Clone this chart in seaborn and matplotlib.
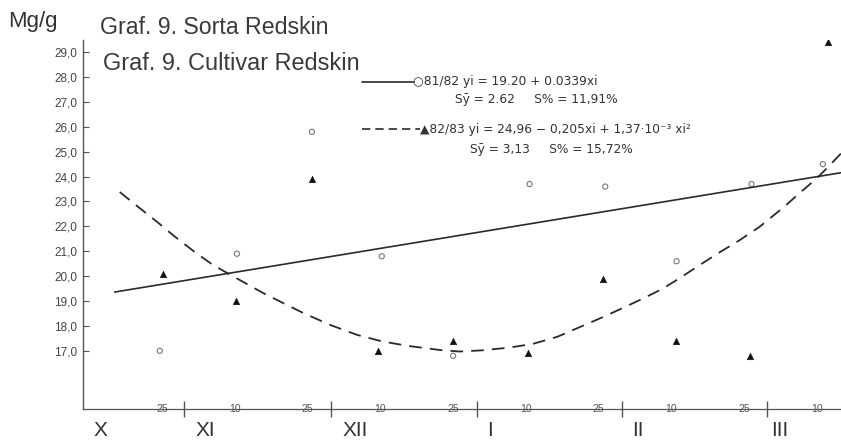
import matplotlib
matplotlib.use("Agg")
import matplotlib.pyplot as plt
import seaborn as sns
import pandas as pd
from matplotlib.lines import Line2D

# ---------------- data ----------------
# sampling dates, evenly spaced positions 1..10
date_pos = [1, 2, 3, 4, 5, 6, 7, 8, 9, 10]
date_labels = ["25", "10", "25", "10", "25", "10", "25", "10", "25", "10"]
month_names = ["X", "XI", "XII", "I", "II", "III"]
month_label_pos = [0.15, 1.59, 3.65, 5.51, 7.54, 9.49]
month_sep_pos = [1.30, 3.32, 5.33, 7.32, 9.32]

# season 81/82 (open circles)
circ_x = [0.97, 2.03, 3.06, 4.02, 5.0, 6.05, 7.09, 8.07, 9.1, 10.08]
circ_y = [17.0, 20.9, 25.8, 20.8, 16.8, 23.7, 23.6, 20.6, 23.7, 24.5]
# season 82/83 (filled triangles)
tri_x = [1.01, 2.02, 3.06, 3.97, 5.0, 6.03, 7.06, 8.06, 9.08, 10.15]
tri_y = [20.1, 19.0, 23.9, 17.0, 17.4, 16.9, 19.9, 17.4, 16.8, 29.4]

# fitted line 81/82 (solid)
lin_x = [0.35, 10.4]
lin_y = [19.36, 24.19]
# fitted curve 82/83 (dashed)
quad_x = [0.42, 0.70, 0.95, 1.18, 1.45, 1.70, 1.96, 2.17, 2.39, 2.65, 2.94,
          3.31, 3.68, 4.02, 4.37, 4.82, 5.09, 5.41, 5.78, 6.10, 6.43, 6.78,
          7.11, 7.33, 7.61, 7.87, 8.12, 8.39, 8.67, 8.94, 9.21, 9.53, 9.81,
          10.0, 10.18, 10.31, 10.42]
quad_y = [23.38, 22.72, 22.14, 21.58, 20.97, 20.45, 20.02, 19.68, 19.32, 18.94,
          18.52, 18.04, 17.64, 17.38, 17.20, 17.03, 16.97, 17.02, 17.13, 17.28,
          17.56, 18.00, 18.42, 18.72, 19.10, 19.48, 19.93, 20.45, 20.97, 21.45,
          21.98, 22.74, 23.46, 23.94, 24.47, 24.87, 25.2]

y_ticks = [17, 18, 19, 20, 21, 22, 23, 24, 25, 26, 27, 28, 29]
y_tick_labels = [f"{v},0" for v in y_ticks]

# ---------------- figure ----------------
sns.set_theme(style="white")
plt.rcParams["font.family"] = ["Liberation Sans", "DejaVu Sans"]

W, H = 841, 441
fig = plt.figure(figsize=(W / 100, H / 100), dpi=100)
ax = fig.add_axes([83 / W, 32 / H, 758 / W, 369 / H])

ink = "#2a2a2a"
grey = "#555555"

df_lin = pd.DataFrame({"x": lin_x, "y": lin_y})
df_quad = pd.DataFrame({"x": quad_x, "y": quad_y})
sns.lineplot(data=df_lin, x="x", y="y", ax=ax, color=ink, lw=1.2, sort=False)
sns.lineplot(data=df_quad, x="x", y="y", ax=ax, color=ink, lw=1.3, sort=False,
             dashes=False)
ax.lines[-1].set_dashes([7, 4.5])

df_c = pd.DataFrame({"x": circ_x, "y": circ_y})
df_t = pd.DataFrame({"x": tri_x, "y": tri_y})
sns.scatterplot(data=df_c, x="x", y="y", ax=ax, marker="o", s=14,
                facecolor="none", edgecolor="#777777", linewidth=0.8)
sns.scatterplot(data=df_t, x="x", y="y", ax=ax, marker="^", s=22,
                color="#111111", edgecolor="#111111", linewidth=0.4)

ax.set_xlim(-0.085, 10.33)
ax.set_ylim(14.66, 29.49)
ax.set_xlabel("")
ax.set_ylabel("")

for s in ["top", "right"]:
    ax.spines[s].set_visible(False)
ax.spines["left"].set_color(grey)
ax.spines["bottom"].set_color(grey)
ax.spines["left"].set_linewidth(1.0)
ax.spines["bottom"].set_linewidth(0.9)

ax.set_yticks(y_ticks)
ax.set_yticklabels(y_tick_labels)
ax.tick_params(axis="y", direction="in", length=4, width=0.8, color=grey,
               labelsize=8.5, labelcolor="#444444", pad=4, left=True)

ax.set_xticks(date_pos)
ax.set_xticklabels(date_labels)
ax.set_xticks(month_sep_pos, minor=True)
ax.tick_params(axis="x", which="major", length=0, pad=0, labelsize=7.5,
               labelcolor="#555555", bottom=True)
ax.tick_params(axis="x", which="minor", direction="inout", length=12,
               width=1.0, color=grey, bottom=True)
for lbl in ax.get_xticklabels():
    lbl.set_va("center")
    lbl.set_bbox(dict(facecolor="white", edgecolor="none", pad=1.5))

xt = ax.get_xaxis_transform()
for name, pos in zip(month_names, month_label_pos):
    ax.text(pos, -0.057, name, transform=xt, ha="center", va="center",
            fontsize=15, color="#333333")

# titles
def fx(px):
    return px / W

def fy(py):
    return 1 - py / H

fig.text(fx(8), fy(22), "Mg/g", fontsize=16, color="#333333", va="center")
fig.text(fx(100), fy(27), "Graf. 9. Sorta Redskin", fontsize=16.7,
         color="#3a3a3a", va="center")
fig.text(fx(103), fy(64), "Graf. 9. Cultivar Redskin", fontsize=16.9,
         color="#3a3a3a", va="center")

# key / equations
fig.add_artist(Line2D([fx(362), fx(414)], [fy(82), fy(82)], color=ink, lw=1.2))
fig.add_artist(Line2D([fx(362), fx(420)], [fy(129), fy(129)], color=ink, lw=1.2,
                      dashes=[5, 3]))
eq_font = dict(fontsize=8.8, color="#333333", va="center",
               family=["DejaVu Sans"])
fig.text(fx(413), fy(82), "○81/82 yi = 19.20 + 0.0339xi", **eq_font)
fig.text(fx(455), fy(100), "Sȳ = 2.62     S% = 11,91%", **eq_font)
fig.text(fx(420), fy(129), "▲82/83 yi = 24,96 − 0,205xi + 1,37·10⁻³ xi²", **eq_font)
fig.text(fx(470), fy(150), "Sȳ = 3,13     S% = 15,72%", **eq_font)

fig.savefig("out.png", dpi=100, facecolor="white")
